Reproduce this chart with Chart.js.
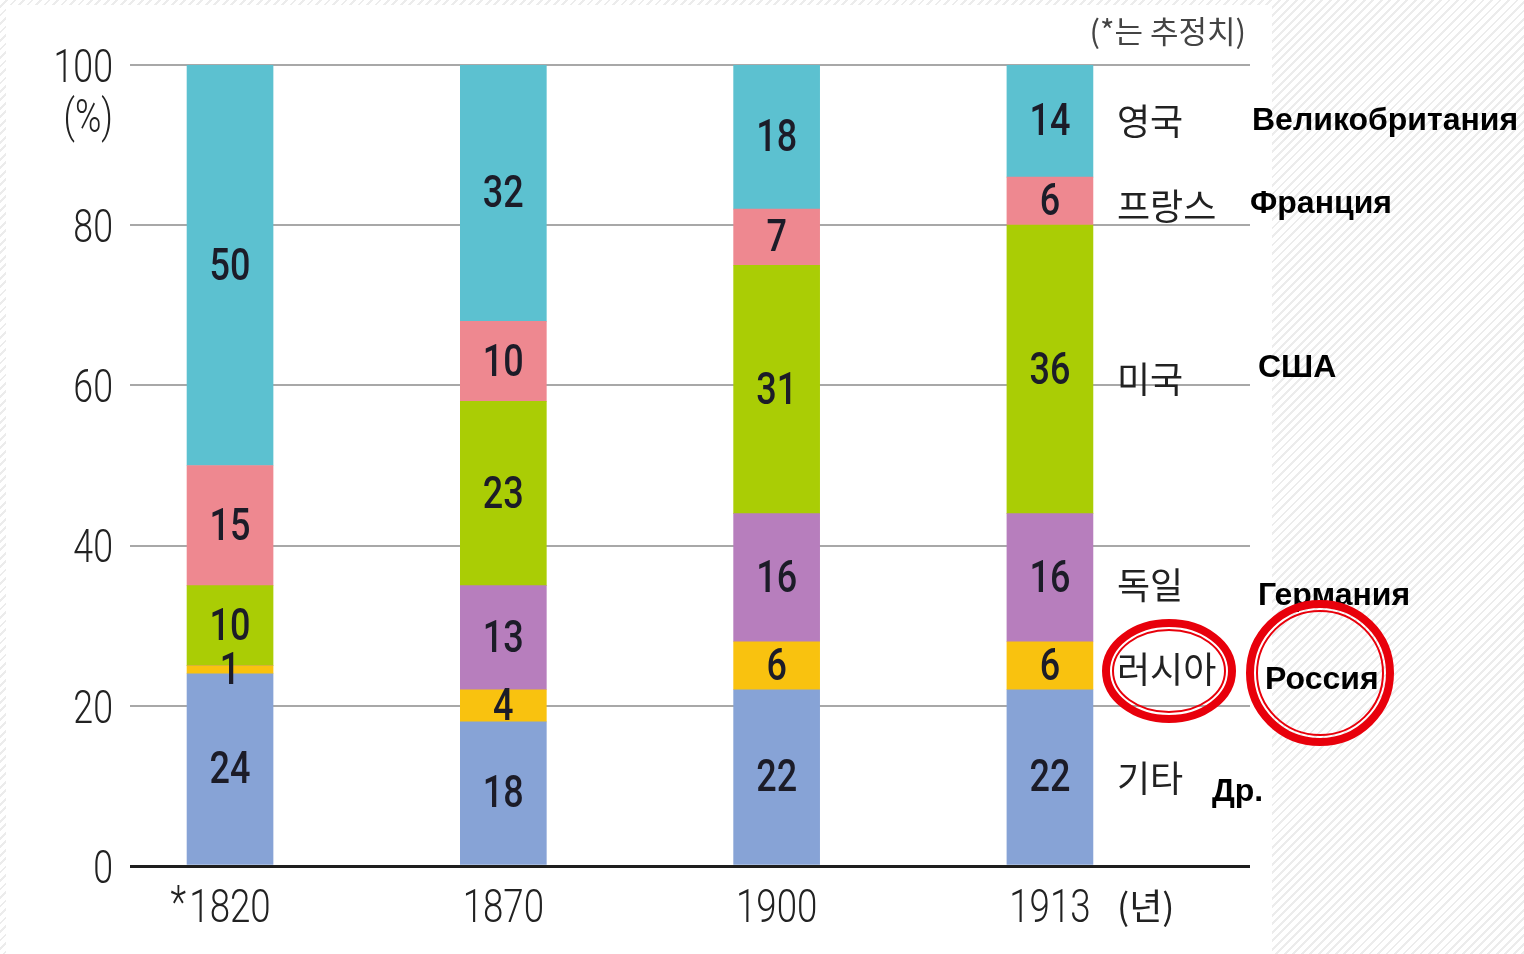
<!DOCTYPE html>
<html>
<head>
<meta charset="utf-8">
<script src="https://cdn.jsdelivr.net/npm/chart.js@4.4.1/dist/chart.umd.min.js"></script>
<style>
  html, body { margin: 0; padding: 0; }
  body {
    width: 1524px; height: 954px; overflow: hidden; position: relative;
    background: repeating-linear-gradient(135deg, #ffffff 0 4px, #ececec 4px 6px);
  }
  #paper { position: absolute; left: 6px; top: 5px; width: 1266px; height: 949px; background: #fff; }
  #chart { position: absolute; left: 0; top: 0; }
</style>
</head>
<body>
<div id="paper"></div>
<canvas id="chart" width="1524" height="954"></canvas>
<script>
// data, bottom of the stack first
const years = ["*1820", "1870", "1900", "1913"];
const seriesKo = ["기타", "러시아", "독일", "미국", "프랑스", "영국"];
const seriesRu = ["Др.", "Россия", "Германия", "США", "Франция", "Великобритания"];
const other = [24, 18, 22, 22];
const russia = [1, 4, 6, 6];
const germany = [0, 13, 16, 16];
const usa = [10, 23, 31, 36];
const france = [15, 10, 7, 6];
const uk = [50, 32, 18, 14];
const yTicks = [0, 20, 40, 60, 80, 100];

const values = [other, russia, germany, usa, france, uk];
const colors = ["#87a3d6", "#f9c20f", "#b77ebd", "#aacd05", "#ee8890", "#5cc1d0"];

// where the side labels sit (value on the y scale, left x in px)
const koLabelY = [11, 24.5, 35, 60.7, 82.4, 93];
const ruLabelPos = [[1212, 9.2], [1265, 23.2], [1258, 33.7], [1258, 62.2], [1250, 82.6], [1252, 93]];

function narrow(ctx, text, x, y, font, color, sx, align) {
  ctx.save();
  ctx.translate(x, y);
  ctx.scale(sx, 1);
  ctx.font = font;
  ctx.fillStyle = color;
  ctx.textAlign = align;
  ctx.textBaseline = "middle";
  ctx.fillText(text, 0, 0);
  ctx.restore();
}

function ring(ctx, cx, cy, rx, ry) {
  ctx.save();
  ctx.strokeStyle = "#e8000b";
  ctx.lineWidth = 8;
  ctx.beginPath();
  ctx.ellipse(cx, cy, rx, ry, 0, 0, Math.PI * 2);
  ctx.stroke();
  ctx.lineWidth = 2;
  ctx.beginPath();
  ctx.ellipse(cx, cy, rx - 7, ry - 7, 0, 0, Math.PI * 2);
  ctx.stroke();
  ctx.restore();
}

const overlay = {
  id: "overlay",
  afterDraw(chart) {
    const { ctx, scales: { x, y } } = chart;
    const tickFont = "300 47px Roboto, 'DejaVu Sans'";

    // y tick labels
    yTicks.forEach(v => {
      narrow(ctx, String(v), 113, y.getPixelForValue(v) + 5, tickFont, "#222", 0.76, "right");
    });
    narrow(ctx, "(%)", 113, 120, tickFont, "#222", 0.76, "right");

    // x labels
    years.forEach((lab, i) => {
      const px = x.getPixelForValue(i);
      if (lab.startsWith("*")) {
        narrow(ctx, lab.slice(1), px, 910, tickFont, "#222", 0.78, "center");
        narrow(ctx, "*", px - 44, 906, tickFont, "#222", 0.78, "right");
      } else {
        narrow(ctx, lab, px, 910, tickFont, "#222", 0.78, "center");
      }
    });

    // values inside the bars
    chart.data.datasets.forEach((ds, k) => {
      const meta = chart.getDatasetMeta(k);
      meta.data.forEach((bar, i) => {
        const v = values[k][i];
        if (!v) return;
        const cy = (bar.y + bar.base) / 2 + 3;
        narrow(ctx, String(v), bar.x, cy, "500 45px Roboto, 'DejaVu Sans'", "#1c1c28", 0.8, "center");
      });
    });

    // korean series labels
    ctx.save();
    ctx.font = "36px 'Noto Sans CJK KR'";
    ctx.fillStyle = "#222";
    ctx.textBaseline = "middle";
    ctx.textAlign = "left";
    seriesKo.forEach((name, k) => ctx.fillText(name, 1117, y.getPixelForValue(koLabelY[k])));
    ctx.fillText("(년)", 1117, 906);
    ctx.font = "31px 'Noto Sans CJK KR'";
    ctx.fillStyle = "#444";
    ctx.textAlign = "right";
    ctx.fillText("(*는 추정치)", 1246, 31);

    // russian translations
    ctx.font = "bold 32px 'Liberation Sans', Arial";
    ctx.fillStyle = "#000";
    ctx.textAlign = "left";
    seriesRu.forEach((name, k) => {
      const [lx, v] = ruLabelPos[k];
      ctx.fillText(name, lx, y.getPixelForValue(v));
    });
    ctx.restore();

    // red rings
    ring(ctx, 1169, 671, 63, 48);
    ring(ctx, 1320, 673, 70, 69);
  }
};

new Chart(document.getElementById("chart"), {
  type: "bar",
  data: {
    datasets: seriesKo.map((name, k) => ({
      label: name,
      data: values[k].map((v, i) => ({ x: i, y: v })),
      backgroundColor: colors[k],
      borderWidth: 0,
      barThickness: 86
    }))
  },
  options: {
    responsive: false,
    animation: false,
    devicePixelRatio: 1,
    layout: { padding: { left: 130, right: 274, top: 65, bottom: 88 } },
    scales: {
      x: {
        type: "linear",
        min: -0.366,
        max: 3.732,
        offset: false,
        bounds: "ticks",
        stacked: true,
        grid: { display: false },
        border: { display: false },
        ticks: { display: false },
        afterBuildTicks(s) { s.ticks = years.map((_, i) => ({ value: i })); },
        afterFit(s) { s.height = 0; }
      },
      y: {
        min: 0,
        max: 100,
        stacked: true,
        border: { display: false },
        ticks: { display: false, stepSize: 20 },
        grid: {
          drawTicks: false,
          color: ctx => ctx.tick.value === 0 ? "#1e1e1e" : "#a8a8a8",
          lineWidth: ctx => ctx.tick.value === 0 ? 3 : 2
        },
        afterFit(s) { s.width = 0; }
      }
    },
    plugins: {
      legend: { display: false },
      tooltip: { enabled: false }
    }
  },
  plugins: [overlay]
});
</script>
</body>
</html>
